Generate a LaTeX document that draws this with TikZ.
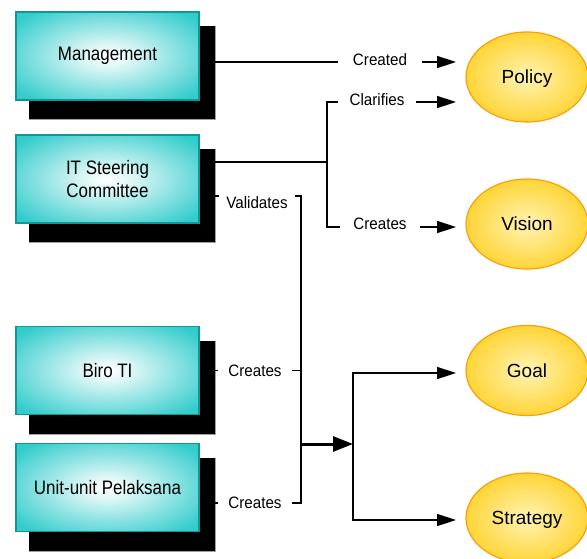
\documentclass[tikz,border=0pt]{standalone}
\usepackage{fontspec}
\setmainfont{Liberation Sans}
\newfontfamily\boxfont[FakeStretch=0.87]{Liberation Sans}
\newfontfamily\labfont[FakeStretch=0.92]{Liberation Sans}
\usetikzlibrary{arrows.meta,calc,shapes.geometric,backgrounds}
\definecolor{tealfill}{RGB}{51,204,204}
\definecolor{tealedge}{RGB}{20,150,150}
\definecolor{yellowfill}{RGB}{255,204,20}
\definecolor{yellowlight}{RGB}{255,244,180}
\definecolor{orangeedge}{RGB}{250,160,10}
\definecolor{shadowgray}{RGB}{160,160,160}
\pgfdeclareradialshading{tealshade}{\pgfpoint{0bp}{0bp}}{color(0bp)=(white); color(6bp)=(white!85!tealfill); color(32bp)=(tealfill); color(50bp)=(tealfill)}
\pgfdeclareradialshading{yellowshade}{\pgfpoint{0bp}{0bp}}{color(0bp)=(yellowlight); color(32bp)=(yellowfill); color(50bp)=(yellowfill)}
\newcommand\myshadow[1]{%
  \fill[black] ($(#1.north west)+(14,15)$) rectangle ($(#1.south east)+(16,19)$);
  \draw[shadowedge] ($(#1.north east)+(16,15)$) -- ($(#1.south east)+(16,19)$) -- ($(#1.south west)+(14,19)$);}
\tikzset{
  orgbox/.style={draw=tealedge, line width=1.2pt, shade, shading=tealshade,
    minimum width=183pt, minimum height=88pt, inner sep=0pt, align=center,
    font=\boxfont\fontsize{19.5}{23}\selectfont},
  targetell/.style={ellipse, draw=orangeedge, line width=1.2pt, shade, shading=yellowshade,
    minimum width=122pt, minimum height=90pt, inner sep=0pt, text depth=0pt,
    font=\fontsize{19}{23}\selectfont},
  lab/.style={inner ysep=1pt, font=\labfont\fontsize{16.5}{19}\selectfont},
  shadowedge/.style={draw=shadowgray, line width=1pt},
  conn/.style={line width=1.5pt},
  arr/.style={line width=1.5pt, -{Triangle[length=19pt,width=12pt]}},
  thickarr/.style={line width=3pt, -{Triangle[length=20pt,width=15pt]}}
}
\begin{document}
\begin{tikzpicture}[x=1pt,y=-1pt]
\useasboundingbox (0,0) rectangle (587,558);
% boxes
\node[orgbox] (m) at (107.5,56) {Management};
\node[orgbox] (it) at (107.5,179) {IT Steering\\Committee};
\node[orgbox] (biro) at (107.5,370.5) {Biro TI};
\node[orgbox] (unit) at (107.5,487.5) {Unit-unit Pelaksana};
\begin{scope}[on background layer]
  \myshadow{m}
  \myshadow{it}
  \myshadow{biro}
  \myshadow{unit}
\end{scope}
% targets
\node[targetell] (policy) at (527,77) {Policy};
\node[targetell] (vision) at (527,224) {Vision};
\node[targetell] (goal) at (527,370.5) {Goal};
\node[targetell] (strategy) at (527,518) {Strategy};
% labels
\node[lab, inner xsep=15pt] (lcreated) at (380,60) {Created};
\node[lab, inner xsep=11pt] (lclar) at (377,100) {Clarifies};
\node[lab, inner xsep=13pt] (lcr1) at (380,223.5) {Creates};
\node[lab, inner xsep=7pt] (lval) at (257,203) {Validates};
\node[lab, inner xsep=10pt] (lbiro) at (255,371) {Creates};
\node[lab, inner xsep=10pt] (lunit) at (255,502.5) {Creates};
% coordinates
\coordinate (pa1) at (456,62);
\coordinate (pa2) at (456,102);
\coordinate (pa3) at (456,227);
\coordinate (fork1) at (327,162);
\coordinate (vtop) at (301,196);
\coordinate (vbot) at (301,503);
\coordinate (jn) at (301,444);
\coordinate (fk) at (353,444);
\coordinate (ga) at (456,373);
\coordinate (sa) at (456,520);
% Management -> Policy
\draw[conn] ([yshift=-6pt]m.east) -- (lcreated.west |- pa1);
\draw[arr] (lcreated.east |- pa1) -- (pa1);
% IT Steering -> Policy / Vision
\draw[conn] ([yshift=17pt]it.east) -- (fork1);
\draw[conn] (lclar.west |- pa2) -| (fork1) |- (lcr1.west |- pa3);
\draw[arr] (lclar.east |- pa2) -- (pa2);
\draw[arr] (lcr1.east |- pa3) -- (pa3);
% Validates
\draw[conn] ([yshift=-17pt]it.east) -- (lval.west |- vtop);
\draw[conn, line join=miter] (lval.east |- vtop) -- (vtop) -- (vbot) -- (lunit.east |- vbot);
% Biro TI
\draw[conn] (biro.east) -- (lbiro.west |- biro.east);
\draw[conn] (lbiro.east |- biro.east) -- (vtop |- biro.east);
% Unit-unit
\draw[conn] ([yshift=-15.5pt]unit.east) -- (lunit.west |- vbot);
% merge and split
\draw[thickarr] (jn) -- (fk);
\draw[arr] (fk) |- (ga);
\draw[arr] (fk) |- (sa);
\end{tikzpicture}
\end{document}
